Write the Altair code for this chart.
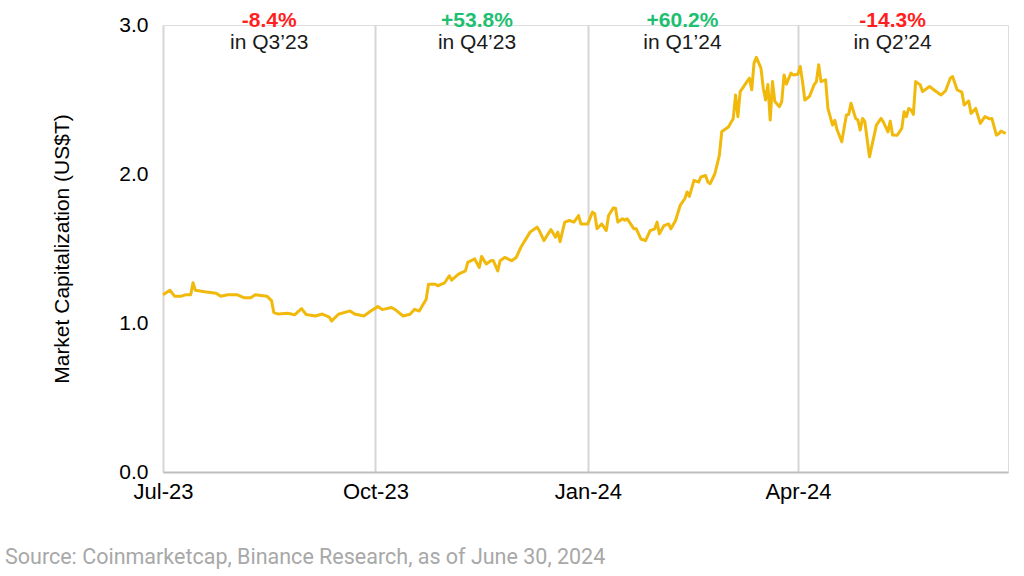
import altair as alt
import pandas as pd

dates = [
    "2023-07-01", "2023-07-04", "2023-07-06", "2023-07-09", "2023-07-11", "2023-07-13", "2023-07-14",
    "2023-07-15", "2023-07-19", "2023-07-24", "2023-07-26", "2023-07-29", "2023-08-02", "2023-08-05",
    "2023-08-08", "2023-08-10", "2023-08-15", "2023-08-17", "2023-08-18", "2023-08-20", "2023-08-24",
    "2023-08-27", "2023-08-30", "2023-09-01", "2023-09-05", "2023-09-08", "2023-09-11", "2023-09-12",
    "2023-09-15", "2023-09-20", "2023-09-22", "2023-09-26", "2023-09-29", "2023-10-02", "2023-10-04",
    "2023-10-08", "2023-10-10", "2023-10-13", "2023-10-16", "2023-10-18", "2023-10-20", "2023-10-23",
    "2023-10-24", "2023-10-27", "2023-10-28", "2023-10-31", "2023-11-02", "2023-11-03", "2023-11-06",
    "2023-11-09", "2023-11-10", "2023-11-13", "2023-11-15", "2023-11-16", "2023-11-18", "2023-11-20",
    "2023-11-21", "2023-11-23", "2023-11-24", "2023-11-26", "2023-11-29", "2023-12-01", "2023-12-03",
    "2023-12-07", "2023-12-10", "2023-12-11", "2023-12-13", "2023-12-16", "2023-12-18", "2023-12-19",
    "2023-12-20", "2023-12-22", "2023-12-24", "2023-12-26", "2023-12-28", "2023-12-29", "2024-01-01",
    "2024-01-03", "2024-01-04", "2024-01-05", "2024-01-07", "2024-01-09", "2024-01-10", "2024-01-12",
    "2024-01-13", "2024-01-14", "2024-01-16", "2024-01-17", "2024-01-18", "2024-01-21", "2024-01-22",
    "2024-01-24", "2024-01-26", "2024-01-28", "2024-01-30", "2024-01-31", "2024-02-01", "2024-02-03",
    "2024-02-05", "2024-02-06", "2024-02-08", "2024-02-10", "2024-02-12", "2024-02-13", "2024-02-14",
    "2024-02-16", "2024-02-18", "2024-02-19", "2024-02-21", "2024-02-22", "2024-02-23", "2024-02-25",
    "2024-02-27", "2024-02-28", "2024-03-02", "2024-03-04", "2024-03-05", "2024-03-06", "2024-03-07",
    "2024-03-09", "2024-03-11", "2024-03-12", "2024-03-13", "2024-03-14", "2024-03-16", "2024-03-17",
    "2024-03-18", "2024-03-19", "2024-03-20", "2024-03-21", "2024-03-22", "2024-03-24", "2024-03-25",
    "2024-03-26", "2024-03-27", "2024-03-29", "2024-03-30", "2024-04-01", "2024-04-02", "2024-04-03",
    "2024-04-04", "2024-04-06", "2024-04-08", "2024-04-09", "2024-04-10", "2024-04-11", "2024-04-13",
    "2024-04-14", "2024-04-16", "2024-04-17", "2024-04-18", "2024-04-20", "2024-04-22", "2024-04-23",
    "2024-04-24", "2024-04-26", "2024-04-27", "2024-04-28", "2024-04-29", "2024-04-30", "2024-05-02",
    "2024-05-05", "2024-05-07", "2024-05-08", "2024-05-10", "2024-05-11", "2024-05-12", "2024-05-14",
    "2024-05-16", "2024-05-17", "2024-05-18", "2024-05-19", "2024-05-20", "2024-05-21", "2024-05-22",
    "2024-05-24", "2024-05-25", "2024-05-28", "2024-05-30", "2024-06-02", "2024-06-04", "2024-06-06",
    "2024-06-07", "2024-06-09", "2024-06-11", "2024-06-12", "2024-06-14", "2024-06-15", "2024-06-17",
    "2024-06-19", "2024-06-21", "2024-06-23", "2024-06-24", "2024-06-26", "2024-06-27", "2024-06-28",
    "2024-06-30",
]

market_cap = [
    1.19, 1.22, 1.18, 1.18, 1.19, 1.19, 1.27,
    1.22, 1.21, 1.20, 1.18, 1.19, 1.19, 1.17,
    1.17, 1.19, 1.18, 1.15, 1.07, 1.06, 1.065,
    1.055, 1.097, 1.057, 1.047, 1.06, 1.04, 1.013,
    1.059, 1.081, 1.06, 1.047, 1.081, 1.11, 1.09,
    1.104, 1.085, 1.047, 1.059, 1.092, 1.08, 1.16,
    1.26, 1.26, 1.25, 1.27, 1.317, 1.288, 1.328,
    1.35, 1.407, 1.43, 1.373, 1.447, 1.396, 1.418,
    1.42, 1.35, 1.418, 1.44, 1.418, 1.44, 1.508,
    1.61, 1.643, 1.62, 1.553, 1.627, 1.576, 1.61,
    1.546, 1.677, 1.688, 1.677, 1.721, 1.665, 1.665,
    1.744, 1.733, 1.632, 1.665, 1.62, 1.721, 1.771,
    1.77, 1.677, 1.70, 1.69, 1.70, 1.632, 1.632,
    1.564, 1.553, 1.62, 1.632, 1.677, 1.598, 1.654,
    1.665, 1.632, 1.688, 1.789, 1.834, 1.879, 1.85,
    1.957, 1.946, 1.98, 1.99, 1.946, 1.935, 2.0,
    2.126, 2.283, 2.317, 2.373, 2.53, 2.385, 2.553,
    2.598, 2.643, 2.565, 2.744, 2.783, 2.711, 2.576,
    2.497, 2.60, 2.362, 2.62, 2.486, 2.452, 2.486,
    2.665, 2.603, 2.677, 2.665, 2.67, 2.722, 2.62,
    2.497, 2.52, 2.598, 2.62, 2.733, 2.62, 2.632,
    2.44, 2.328, 2.36, 2.295, 2.216, 2.396, 2.40,
    2.475, 2.373, 2.362, 2.295, 2.373, 2.351, 2.115,
    2.328, 2.373, 2.35, 2.283, 2.355, 2.261, 2.26,
    2.306, 2.418, 2.385, 2.44, 2.43, 2.40, 2.62,
    2.598, 2.553, 2.587, 2.564, 2.53, 2.56, 2.643,
    2.654, 2.564, 2.55, 2.463, 2.49, 2.407, 2.44,
    2.34, 2.385, 2.37, 2.373, 2.261, 2.27, 2.288,
    2.272,
]

quarter_anchor = ["2023-08-16", "2023-11-14", "2024-02-11", "2024-05-12"]
quarter_change = ["-8.4%", "+53.8%", "+60.2%", "-14.3%"]
quarter_label = ["in Q3\u201923", "in Q4\u201923", "in Q1\u201924", "in Q2\u201924"]
quarter_color = ["#FF1F1F", "#1FBF72", "#1FBF72", "#FF1F1F"]

tick_dates = ["2023-07-01", "2023-10-01", "2024-01-01", "2024-04-01"]
source_text = ["Source: Coinmarketcap, Binance Research, as of June 30, 2024"]

df = pd.DataFrame({"date": dates, "value": market_cap})
ann = pd.DataFrame({"date": quarter_anchor, "pct": quarter_change,
                    "label": quarter_label, "color": quarter_color})
src = pd.DataFrame({"text": source_text})

FONT = "Liberation Sans"

x_scale = alt.Scale(type="utc",
                    domain=[alt.DateTime(year=2023, month=7, date=1, utc=True),
                            alt.DateTime(year=2024, month=7, date=1, utc=True)])
tick_vals = [alt.DateTime(year=int(d[:4]), month=int(d[5:7]), date=1, utc=True) for d in tick_dates]

line = alt.Chart(df).mark_line(color="#F0B90B", strokeWidth=3, strokeJoin="round").encode(
    x=alt.X("date:T", scale=x_scale,
            axis=alt.Axis(values=tick_vals, labelExpr="utcFormat(datum.value, '%b-%y')",
                          title=None, ticks=False, grid=True, gridColor="#d6d6d6", gridWidth=2,
                          domainColor="#bdbdbd", domainWidth=2, labelFont=FONT, labelFontSize=22,
                          labelColor="#000000", labelPadding=9, labelFlush=False)),
    y=alt.Y("value:Q", scale=alt.Scale(domain=[0, 3], nice=False),
            axis=alt.Axis(values=[0, 1, 2, 3], format=".1f", title="Market Capitalization (US$T)",
                          domain=False, ticks=False, grid=False, labelFont=FONT, labelFontSize=21,
                          labelColor="#000000", labelPadding=15, titleFont=FONT, titleFontSize=21,
                          titleFontWeight="normal", titleColor="#000000", titlePadding=46)),
)

pct = alt.Chart(ann).mark_text(font=FONT, fontSize=21, fontWeight="bold", baseline="middle",
                               align="center").encode(
    x=alt.X("date:T", scale=x_scale),
    y=alt.value(-4),
    text="pct:N",
    color=alt.Color("color:N", scale=None),
)

qlab = alt.Chart(ann).mark_text(font=FONT, fontSize=21, baseline="middle", align="center",
                                color="#1a1a1a").encode(
    x=alt.X("date:T", scale=x_scale),
    y=alt.value(18),
    text="label:N",
)

source = alt.Chart(src).mark_text(font="Roboto", fontSize=21.5, align="left", baseline="middle",
                                  color="#a8a8a8").encode(
    x=alt.value(-158),
    y=alt.value(533),
    text="text:N",
)

chart = alt.layer(line, pct, qlab, source).properties(
    width=845, height=447,
    autosize=alt.AutoSizeParams(type="none"),
    padding={"left": 163, "top": 25, "right": 16, "bottom": 104},
).configure_view(stroke=None).configure(background="#ffffff")

chart.save("out.html", embed_options={"renderer": "svg", "actions": False})
